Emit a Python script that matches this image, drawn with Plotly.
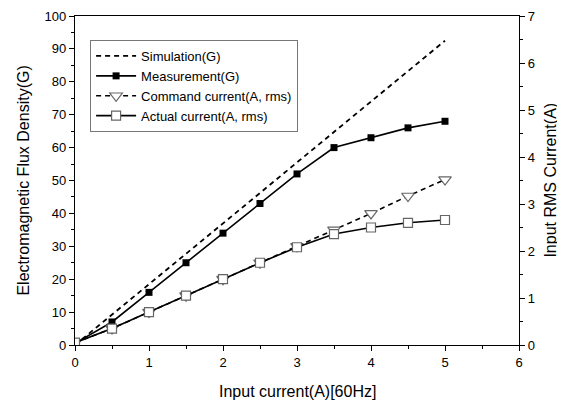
import plotly.graph_objects as go

x_vals = [0, 0.5, 1, 1.5, 2, 2.5, 3, 3.5, 4, 4.5, 5]
simulation_g = [0, 9.2, 18.5, 27.7, 37, 46.2, 55.5, 64.7, 74, 83.2, 92.5]
measurement_g = [0.5, 7, 16, 25, 34, 43, 52, 60, 63, 66, 68]
command_a = [0.05, 0.35, 0.7, 1.05, 1.4, 1.75, 2.1, 2.45, 2.8, 3.17, 3.52]
actual_a = [0.05, 0.35, 0.7, 1.05, 1.4, 1.75, 2.08, 2.36, 2.5, 2.6, 2.66]

FONT = "Liberation Sans, Arial, sans-serif"

fig = go.Figure()
fig.add_trace(go.Scatter(x=x_vals, y=simulation_g, mode="lines", name="Simulation(G)",
                         line=dict(color="black", width=1.8, dash="5px,4px")))
fig.add_trace(go.Scatter(x=x_vals, y=measurement_g, mode="lines+markers", name="Measurement(G)",
                         line=dict(color="black", width=1.6),
                         marker=dict(symbol="square", size=7, color="black")))
fig.add_trace(go.Scatter(x=x_vals, y=command_a, mode="lines+markers", name="Command current(A, rms)",
                         yaxis="y2", line=dict(color="black", width=1.6, dash="5px,4px"),
                         marker=dict(symbol="triangle-down", size=11, color="white",
                                     line=dict(color="#666666", width=1.2))))
fig.add_trace(go.Scatter(x=x_vals, y=actual_a, mode="lines+markers", name="Actual current(A, rms)",
                         yaxis="y2", line=dict(color="black", width=1.6),
                         marker=dict(symbol="square", size=9, color="white",
                                     line=dict(color="#666666", width=1.2))))

axis_common = dict(showgrid=False, zeroline=False, showline=True, linecolor="black", linewidth=1.2,
                   ticks="outside", ticklen=5, tickwidth=1.2, tickcolor="black", automargin=False,
                   tickfont=dict(family=FONT, size=13, color="black"))
minor_common = dict(ticks="outside", ticklen=3, tickcolor="black", tickwidth=1)

fig.update_layout(
    width=557, height=393,
    margin=dict(l=67, r=46, t=8, b=56),
    paper_bgcolor="white", plot_bgcolor="white",
    font=dict(family=FONT, color="black"),
    showlegend=True,
    legend=dict(x=0.034, y=0.927, xanchor="left", yanchor="top",
                bordercolor="#777777", borderwidth=1, bgcolor="white",
                font=dict(family=FONT, size=13, color="black"),
                tracegroupgap=0, itemwidth=40),
    xaxis=dict(range=[0, 6], dtick=1, mirror=True,
               minor=dict(dtick=0.5, **minor_common), **axis_common),
    yaxis=dict(range=[0, 100], dtick=10,
               minor=dict(dtick=5, **minor_common), **axis_common),
    yaxis2=dict(range=[0, 7], dtick=1, overlaying="y", side="right",
                minor=dict(dtick=0.5, **minor_common), **axis_common),
    annotations=[
        dict(text="Input current(A)[60Hz]", xref="paper", yref="paper", x=0.5, y=-0.14,
             xanchor="center", yanchor="middle", showarrow=False,
             font=dict(family=FONT, size=16, color="black")),
        dict(text="Electromagnetic Flux Density(G)", xref="paper", yref="paper", x=-0.117, y=0.5,
             xanchor="center", yanchor="middle", showarrow=False, textangle=-90,
             font=dict(family=FONT, size=16, color="black")),
        dict(text="Input RMS Current(A)", xref="paper", yref="paper", x=1.07, y=0.5,
             xanchor="center", yanchor="middle", showarrow=False, textangle=-90,
             font=dict(family=FONT, size=16, color="black")),
    ],
)

fig.write_html("out.html")
